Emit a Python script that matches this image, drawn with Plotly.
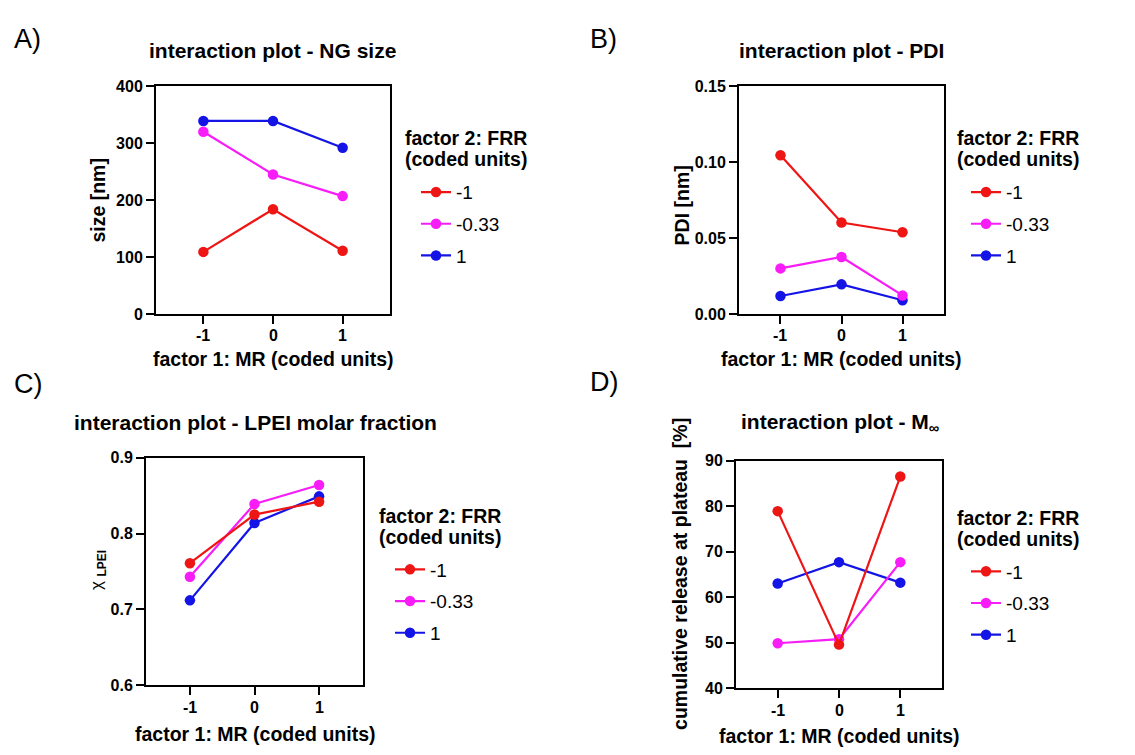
import plotly.graph_objects as go

W, H = 1135, 755

# factor 1 levels (x) and factor 2 levels (series)
mr_levels = [-1, 0, 1]
mr_ticktext = ["-1", "0", "1"]
frr_labels = ["-1", "-0.33", "1"]
frr_colors = ["#ee1515", "#f81cf8", "#1414e6"]

# A) NG size [nm]
size_m1 = [109, 184, 111]
size_m033 = [320, 245, 207]
size_p1 = [339, 339, 292]

# B) PDI
pdi_m1 = [0.1045, 0.0602, 0.0538]
pdi_m033 = [0.0300, 0.0375, 0.0122]
pdi_p1 = [0.0118, 0.0195, 0.0090]

# C) LPEI molar fraction
lpei_m1 = [0.761, 0.825, 0.842]
lpei_m033 = [0.743, 0.839, 0.864]
lpei_p1 = [0.712, 0.814, 0.849]

# D) cumulative release at plateau [%]
minf_m1 = [78.9, 49.6, 86.5]
minf_m033 = [49.9, 50.8, 67.7]
minf_p1 = [63.0, 67.7, 63.2]

FONT = "Liberation Sans, Arial, sans-serif"


def px_x(x):
    return x / W


def px_y(y):
    return 1 - y / H


# plot-box pixel extents: (left, right, top, bottom)
boxes = {
    "": (156, 390, 80, 313),
    "2": (739, 944, 80, 313),
    "3": (146, 363, 460, 693),
    "4": (736, 942, 463, 696),
}
# vertical centre of the x tick labels under each box
xtick_label_y = {"": 335, "2": 335, "3": 716, "4": 719}

yranges = {"": [0, 400], "2": [0, 0.15], "3": [0.6, 0.9], "4": [40, 90]}
ytickvals = {
    "": [0, 100, 200, 300, 400],
    "2": [0, 0.05, 0.10, 0.15],
    "3": [0.6, 0.7, 0.8, 0.9],
    "4": [40, 50, 60, 70, 80, 90],
}
yticktext = {
    "": ["0", "100", "200", "300", "400"],
    "2": ["0.00", "0.05", "0.10", "0.15"],
    "3": ["0.6", "0.7", "0.8", "0.9"],
    "4": ["40", "50", "60", "70", "80", "90"],
}

panels = [
    ("", "legend", [size_m1, size_m033, size_p1]),
    ("2", "legend2", [pdi_m1, pdi_m033, pdi_p1]),
    ("3", "legend3", [lpei_m1, lpei_m033, lpei_p1]),
    ("4", "legend4", [minf_m1, minf_m033, minf_p1]),
]

fig = go.Figure()

for suffix, leg, series in panels:
    # draw level 1 first so level -1 ends up on top
    for i in [2, 1, 0]:
        fig.add_trace(go.Scatter(
            x=mr_levels, y=series[i],
            xaxis="x" + suffix, yaxis="y" + suffix,
            mode="lines+markers",
            name=frr_labels[i],
            legend=leg,
            legendgroup=leg + str(i),
            legendrank=i + 1,
            line=dict(color=frr_colors[i], width=2.2),
            marker=dict(color=frr_colors[i], size=10.5),
        ))

axis_common = dict(
    showline=True, mirror=True, linecolor="black", linewidth=2,
    ticks="outside", ticklen=8, tickwidth=2, tickcolor="black",
    showgrid=False, zeroline=False,
    tickfont=dict(family=FONT, size=16, color="black", weight="bold"),
)

layout = dict(
    width=W, height=H,
    margin=dict(l=0, r=0, t=0, b=0),
    paper_bgcolor="white", plot_bgcolor="white",
    font=dict(family=FONT, color="black"),
)

annotations = []


def add_text(text, x, y, size, bold=False, angle=0, anchor="center", xref="paper"):
    annotations.append(dict(
        text="<b>%s</b>" % text if bold else text,
        x=x if xref != "paper" else px_x(x), y=px_y(y),
        xref=xref, yref="paper",
        xanchor=anchor, yanchor="middle", showarrow=False,
        textangle=angle,
        font=dict(family=FONT, size=size, color="black"),
    ))


for suffix, (l, r, t, b) in boxes.items():
    layout["xaxis" + suffix] = dict(
        axis_common,
        domain=[px_x(l), px_x(r)],
        anchor="y" + suffix,
        range=[-1.68, 1.68],
        tickvals=mr_levels,
        showticklabels=False,
    )
    layout["yaxis" + suffix] = dict(
        axis_common,
        domain=[px_y(b), px_y(t)],
        anchor="x" + suffix,
        range=yranges[suffix],
        tickvals=ytickvals[suffix], ticktext=yticktext[suffix],
    )
    # x tick labels placed on the x axis scale
    for v, txt in zip(mr_levels, mr_ticktext):
        add_text(txt, v, xtick_label_y[suffix], 16, bold=True, xref="x" + suffix)

# legends, one per panel: (legend left, legend top, title left, title line-1 y)
legend_pos = {
    "legend": (416, 169, 403, 133),
    "legend2": (966, 169, 955, 133),
    "legend3": (390, 555, 377, 520),
    "legend4": (966, 557, 955, 522),
}

for leg, (lx, ly, tx, ty) in legend_pos.items():
    layout[leg] = dict(
        x=px_x(lx), y=px_y(ly), xanchor="left", yanchor="top",
        bgcolor="rgba(0,0,0,0)",
        font=dict(family=FONT, size=19, color="black"),
        tracegroupgap=4,
        traceorder="grouped",
    )
    add_text("factor 2: FRR", tx, ty, 19.5, bold=True, anchor="left")
    add_text("(coded units)", tx, ty + 21, 19.5, bold=True, anchor="left")

fig.update_layout(**layout)

# panel letters
add_text("A)", 12, 32, 27, anchor="left")
add_text("B)", 588, 32, 27, anchor="left")
add_text("C)", 12, 385, 27, anchor="left")
add_text("D)", 588, 383, 27, anchor="left")

# panel titles
add_text("interaction plot - NG size", 272, 43, 21, bold=True)
add_text("interaction plot - PDI", 841, 43, 21, bold=True)
add_text("interaction plot - LPEI molar fraction", 255, 424, 21, bold=True)
add_text("interaction plot - M<sub>∞</sub>", 840, 425, 21, bold=True)

# x-axis titles
xlab = "factor 1: MR (coded units)"
add_text(xlab, 273, 359, 19.5, bold=True)
add_text(xlab, 841, 359, 19.5, bold=True)
add_text(xlab, 255, 743, 19.5, bold=True)
add_text(xlab, 839, 745, 19.5, bold=True)

# y-axis titles
add_text("size [nm]", 98, 197, 19.5, bold=True, angle=-90)
add_text("PDI [nm]", 682, 202, 19.5, bold=True, angle=-90)
add_text("χ <sub><b>LPEI</b></sub>", 98, 575, 17, angle=-90)
add_text("cumulative release at plateau \u00a0[%]", 680, 579, 19.5, bold=True, angle=-90)

fig.update_layout(annotations=annotations)

fig.write_html("out.html")
